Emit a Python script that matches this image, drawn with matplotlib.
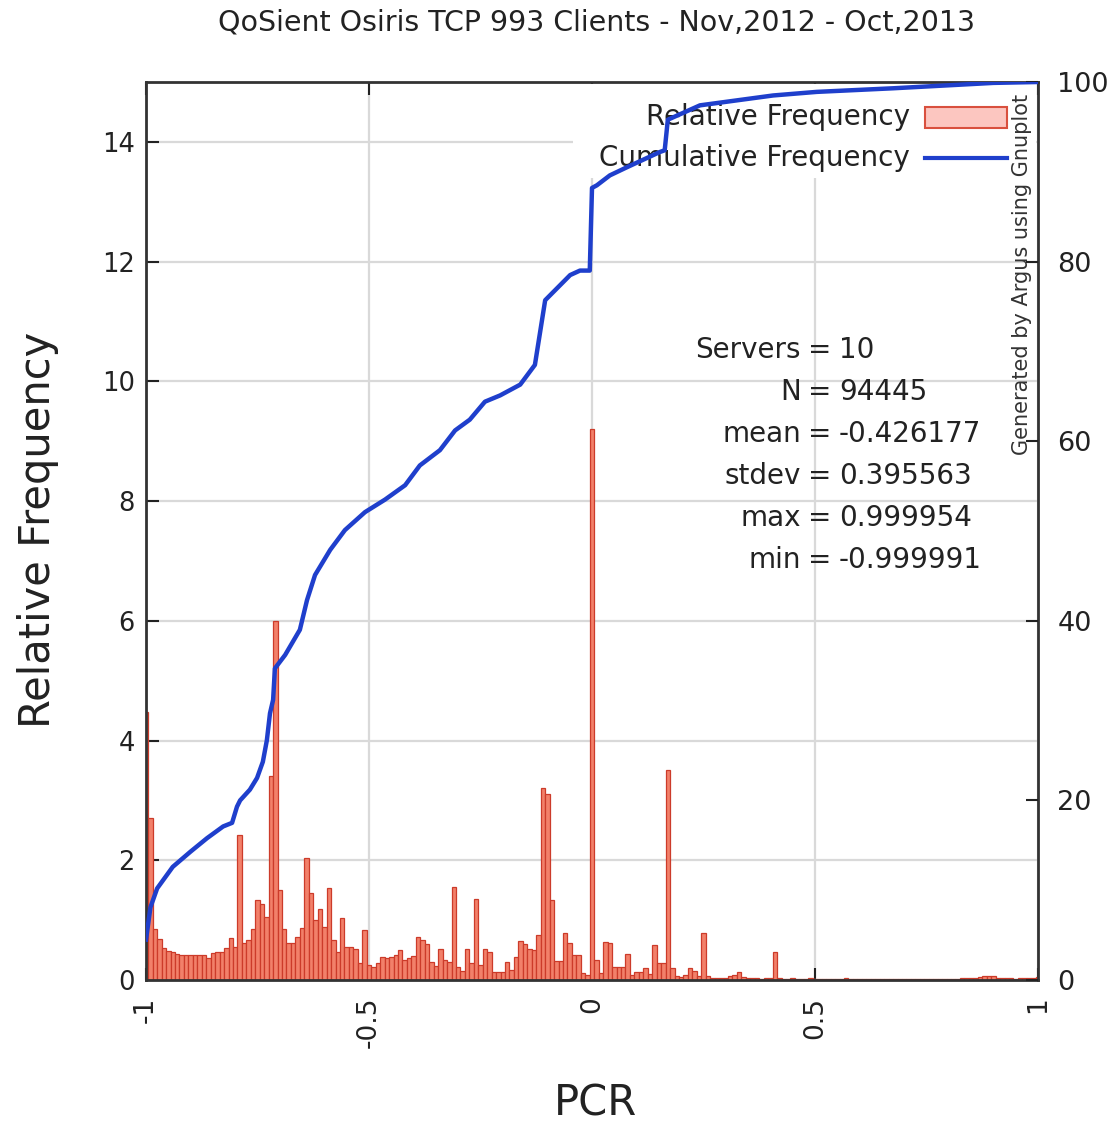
import numpy as np
import matplotlib
matplotlib.use("Agg")
import matplotlib.pyplot as plt
from matplotlib.patches import Rectangle
from matplotlib.lines import Line2D

plt.rcParams["axes.unicode_minus"] = False

# PCR bin centres (-1.00 ... 1.00, step 0.01)
pcr_bins = np.round(np.arange(-100, 101) / 100.0, 2)

# relative frequency (%) per bin
rel_freq = [
    4.48, 2.70, 0.86, 0.68, 0.53, 0.49, 0.46, 0.43, 0.42, 0.42,
    0.42, 0.42, 0.42, 0.42, 0.36, 0.45, 0.46, 0.47, 0.53, 0.70,
    0.55, 2.42, 0.61, 0.66, 0.85, 1.34, 1.27, 1.05, 3.41, 6.00,
    1.50, 0.86, 0.61, 0.62, 0.72, 0.87, 2.03, 1.45, 1.00, 1.18,
    0.89, 1.53, 0.67, 0.47, 1.03, 0.55, 0.55, 0.52, 0.28, 0.83,
    0.25, 0.22, 0.28, 0.38, 0.36, 0.38, 0.42, 0.50, 0.33, 0.36,
    0.40, 0.72, 0.67, 0.60, 0.30, 0.23, 0.52, 0.33, 0.30, 1.56,
    0.22, 0.15, 0.52, 0.28, 1.35, 0.25, 0.52, 0.47, 0.13, 0.14,
    0.14, 0.30, 0.17, 0.39, 0.65, 0.60, 0.52, 0.50, 0.75, 3.20,
    3.10, 1.33, 0.31, 0.31, 0.79, 0.61, 0.41, 0.42, 0.12, 0.08,
    9.20, 0.34, 0.12, 0.64, 0.62, 0.22, 0.22, 0.22, 0.43, 0.08,
    0.14, 0.14, 0.20, 0.10, 0.58, 0.28, 0.28, 3.50, 0.20, 0.06,
    0.05, 0.08, 0.20, 0.15, 0.06, 0.78, 0.06, 0.04, 0.03, 0.03,
    0.04, 0.06, 0.08, 0.14, 0.05, 0.03, 0.03, 0.04, 0.02, 0.03,
    0.03, 0.46, 0.03, 0.02, 0.02, 0.03, 0.02, 0.02, 0.02, 0.03,
    0.02, 0.02, 0.02, 0.02, 0.02, 0.02, 0.02, 0.03, 0.02, 0.02,
    0.02, 0.02, 0.02, 0.02, 0.02, 0.02, 0.02, 0.02, 0.02, 0.02,
    0.02, 0.02, 0.02, 0.02, 0.02, 0.02, 0.02, 0.02, 0.02, 0.02,
    0.02, 0.02, 0.02, 0.03, 0.03, 0.03, 0.04, 0.05, 0.07, 0.07,
    0.06, 0.04, 0.03, 0.03, 0.03, 0.02, 0.03, 0.03, 0.03, 0.04,
    0.05,
]

# cumulative frequency (%)
cum_x = [-1.000, -0.990, -0.975, -0.940, -0.900, -0.863, -0.827, -0.807,
         -0.796, -0.789, -0.767, -0.751, -0.738, -0.729, -0.722, -0.715,
         -0.711, -0.688, -0.655, -0.639, -0.621, -0.587, -0.554, -0.509,
         -0.464, -0.419, -0.386, -0.341, -0.307, -0.274, -0.240, -0.206,
         -0.161, -0.128, -0.105, -0.083, -0.049, -0.027, -0.005, 0.000,
         0.011, 0.040, 0.078, 0.152, 0.163, 0.170, 0.242, 0.406,
         0.504, 0.675, 0.900, 1.000]
cum_y = [4.5, 8.1, 10.2, 12.6, 14.3, 15.8, 17.1, 17.5,
         19.3, 20.0, 21.2, 22.5, 24.3, 26.7, 29.7, 31.2,
         34.7, 36.2, 39.0, 42.3, 45.1, 47.9, 50.1, 52.1,
         53.5, 55.1, 57.3, 59.0, 61.2, 62.4, 64.4, 65.1,
         66.3, 68.5, 75.7, 76.8, 78.5, 79.0, 79.0, 88.2,
         88.5, 89.6, 90.5, 92.2, 92.4, 95.8, 97.4, 98.5,
         98.9, 99.3, 99.9, 100.0]

x_ticks = [-1, -0.5, 0, 0.5, 1]
x_tick_labels = ["-1", "-0.5", "0", "0.5", "1"]
y_ticks = [0, 2, 4, 6, 8, 10, 12, 14]
y2_ticks = [0, 20, 40, 60, 80, 100]

stats_keys = ["Servers", "N", "mean", "stdev", "max", "min"]
stats_vals = ["10", "94445", "-0.426177", "0.395563", "0.999954", "-0.999991"]

W, H = 1116, 1127
fig = plt.figure(figsize=(W / 100, H / 100), dpi=100)


def fx(px):
    return px / W


def fy(py):
    return 1 - py / H


L, R, T, B = 146, 1038, 82, 980
ax = fig.add_axes([fx(L), fy(B), (R - L) / W, (B - T) / H])
ax.set_xlim(-1, 1)
ax.set_ylim(0, 15)

ax.set_axisbelow(True)
ax.grid(True, color="#d9d9d9", lw=1.6)

ax.bar(pcr_bins, rel_freq, width=0.01, facecolor="#f2806a",
       edgecolor="#cc3b2a", lw=0.9, zorder=2)

ax.set_xticks(x_ticks)
ax.set_xticklabels(x_tick_labels)
ax.set_yticks(y_ticks)
ax.tick_params(axis="both", direction="in", length=9, width=1.5,
               colors="#222222", labelcolor="#222222")
ax.tick_params(axis="y", labelsize=18.5, pad=8, right=True)
ax.tick_params(axis="x", labelsize=19, pad=12, top=True, labelrotation=90)
for s in ax.spines.values():
    s.set_linewidth(2)
    s.set_color("#333333")


def axf(px, py):
    return (px - L) / (R - L), (B - py) / (B - T)


# key area: opaque background behind the entries
x0, y0 = axf(573, 178)
x1, y1 = axf(1036, 84)
ax.add_patch(Rectangle((x0, y0), x1 - x0, y1 - y0, transform=ax.transAxes,
                       facecolor="white", edgecolor="none", zorder=0.8))
tx, ty1 = axf(910, 117)
_, ty2 = axf(910, 158)
ax.text(tx, ty1, "Relative Frequency", transform=ax.transAxes, ha="right",
        va="center", fontsize=20, color="#222222", zorder=3)
ax.text(tx, ty2, "Cumulative Frequency", transform=ax.transAxes, ha="right",
        va="center", fontsize=20, color="#222222", zorder=3)
sx0, sy0 = axf(925, 128)
sx1, sy1 = axf(1007, 107)
ax.add_patch(Rectangle((sx0, sy0), sx1 - sx0, sy1 - sy0, transform=ax.transAxes,
                       facecolor="#fcc6c0", edgecolor="#d9503e", lw=1.5, zorder=3))
ax.add_line(Line2D([sx0, sx1], [ty2, ty2], transform=ax.transAxes,
                   color="#1f3fcc", lw=3, zorder=3))

gx, gy = axf(1022, 94)
ax.text(gx, gy, "Generated by Argus using Gnuplot", transform=ax.transAxes,
        rotation=90, ha="center", va="top", fontsize=15, color="#333333", zorder=3)

# summary statistics, aligned on the '=' sign
eq_x = 820
for k, (key, val) in enumerate(zip(stats_keys, stats_vals)):
    py = 350 + 42 * k
    fig.text(fx(eq_x - 19), fy(py), key, ha="right", va="center", fontsize=20,
             color="#222222")
    fig.text(fx(eq_x), fy(py), "=", ha="center", va="center", fontsize=20,
             color="#222222")
    fig.text(fx(eq_x + 19), fy(py), val, ha="left", va="center", fontsize=20,
             color="#222222")

ax2 = ax.twinx()
ax2.set_ylim(0, 100)
ax2.set_yticks(y2_ticks)
ax2.tick_params(axis="y", direction="in", length=9, width=1.5, labelsize=19.5,
                pad=14, colors="#222222")
for s in ax2.spines.values():
    s.set_visible(False)
ax2.plot(cum_x, cum_y, color="#1f3fcc", lw=3.2, solid_joinstyle="round")

fig.text(fx(596), fy(22), "QoSient Osiris TCP 993 Clients - Nov,2012 - Oct,2013",
         ha="center", va="center", fontsize=20.5, color="#222222")
fig.text(fx(38), fy(530), "Relative Frequency", rotation=90, ha="center",
         va="center", fontsize=30, color="#222222")
fig.text(fx(595), fy(1103), "PCR", ha="center", va="center", fontsize=30,
         color="#222222")

fig.savefig("out.png", dpi=100)
